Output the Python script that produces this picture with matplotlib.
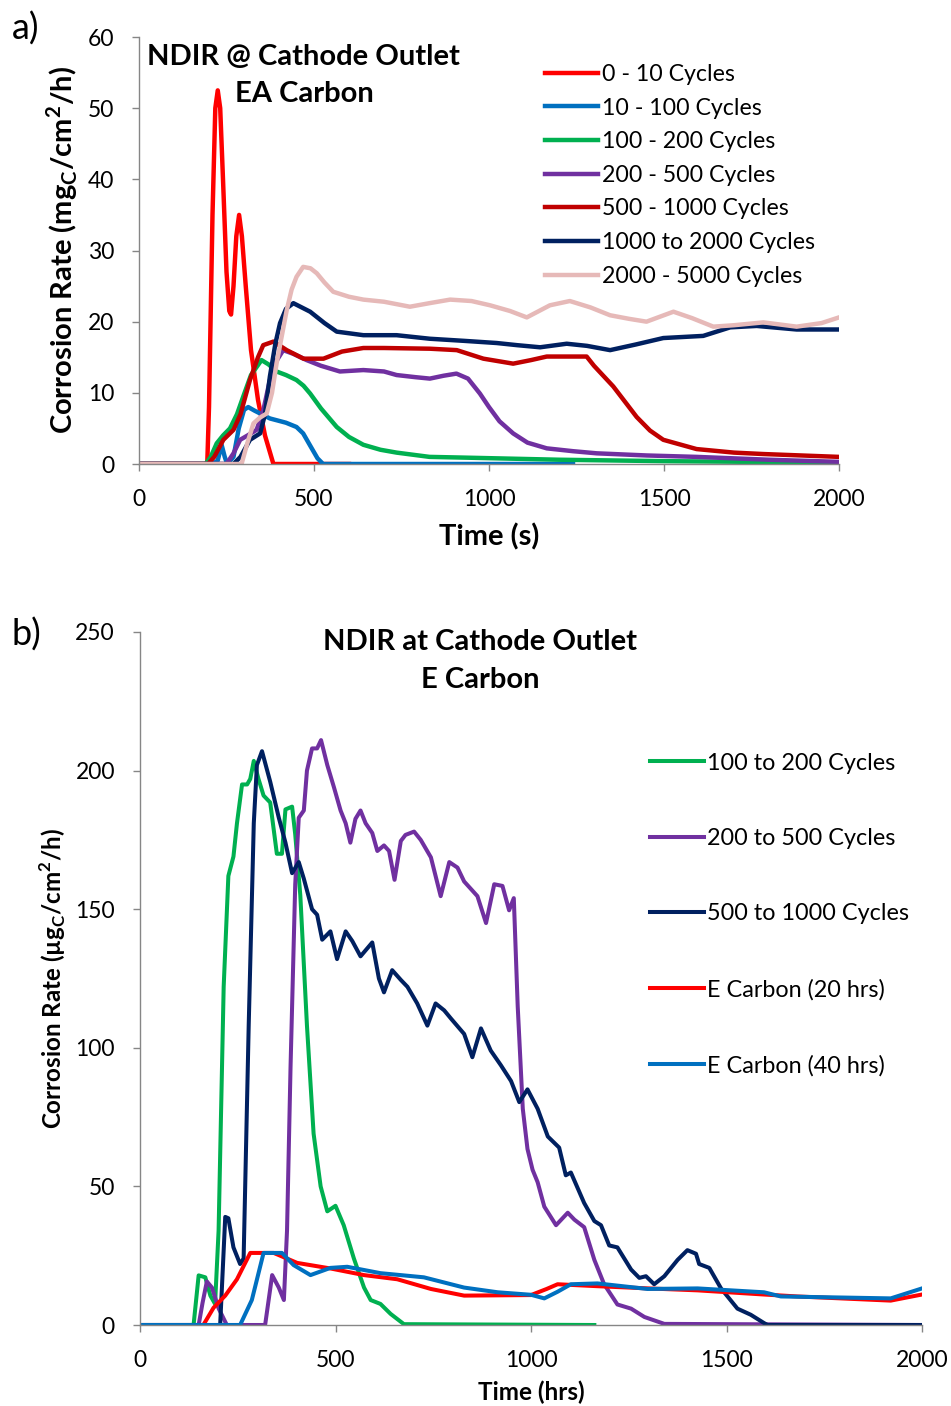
import numpy as np
import matplotlib
matplotlib.use('Agg')
import matplotlib.pyplot as plt

plt.rcParams['font.family'] = ['Lato', 'DejaVu Sans']
plt.rcParams['mathtext.fontset'] = 'custom'
plt.rcParams['mathtext.rm'] = 'Lato'
plt.rcParams['mathtext.bf'] = 'Lato:bold'

# ---------------- panel a data (time in s, rate in mgC/cm2/h)
a_labels = ['0 - 10 Cycles', '10 - 100 Cycles', '100 - 200 Cycles', '200 - 500 Cycles',
            '500 - 1000 Cycles', '1000 to 2000 Cycles', '2000 - 5000 Cycles']
a_colors = ['#FF0000', '#0070C0', '#00B050', '#7030A0', '#C00000', '#002060', '#E6B9B8']

t_a0 = [0, 195, 200, 210, 218, 225, 232, 240, 250, 258, 263, 270, 278, 286, 294, 305, 320, 340, 360, 384, 600]
v_a0 = [0, 0, 8, 35, 50, 52.5, 50, 40, 27, 21.5, 21, 25, 32, 35, 32, 25, 16, 9, 4, 0, 0]

t_a1 = [0, 210, 225, 236, 245, 252, 270, 285, 300, 312, 330, 374, 420, 450, 469, 490, 510, 526, 1240]
v_a1 = [0, 0, 0.5, 2.7, 1, 0, 1, 5, 7.6, 8, 7.5, 6.4, 5.8, 5.2, 4.3, 2.5, 0.8, 0, 0]

t_a2 = [0, 190, 205, 222, 240, 260, 280, 298, 320, 350, 370, 393, 420, 450, 470, 489, 520, 565, 600,
        641, 690, 736, 830, 927, 1200, 1500, 2000]
v_a2 = [0, 0, 1, 2.9, 4, 5, 7, 9.5, 12.5, 14.6, 14, 13, 12.5, 11.8, 11, 9.9, 7.8, 5.2, 3.8,
        2.7, 2, 1.6, 1.0, 0.9, 0.6, 0.4, 0.2]

t_a3 = [0, 250, 270, 289, 310, 336, 355, 374, 393, 412, 440, 479, 520, 574, 641, 700, 736, 790, 831,
        870, 907, 940, 974, 1000, 1030, 1069, 1110, 1165, 1240, 1308, 1450, 1593, 1800, 2000]
v_a3 = [0, 0, 1.5, 3.4, 4, 4.8, 7.5, 11.8, 14.5, 16, 15.5, 14.6, 13.8, 13.0, 13.2, 13.0, 12.5, 12.2, 12.0,
        12.4, 12.7, 12.0, 9.9, 8.0, 6.0, 4.3, 3.0, 2.2, 1.8, 1.5, 1.2, 1.0, 0.6, 0.3]

t_a4 = [0, 197, 215, 241, 270, 290, 317, 340, 355, 384, 422, 470, 527, 580, 641, 700, 831, 908, 984,
        1069, 1120, 1165, 1279, 1300, 1355, 1422, 1460, 1498, 1593, 1700, 1784, 2000]
v_a4 = [0, 0, 1, 3.4, 4.8, 7, 11.8, 15, 16.7, 17.2, 16.0, 14.8, 14.8, 15.8, 16.3, 16.3, 16.2, 16.0, 14.8,
        14.1, 14.6, 15.1, 15.1, 13.8, 10.9, 6.6, 4.7, 3.4, 2.1, 1.6, 1.4, 1.0]

t_a5 = [0, 270, 290, 317, 346, 360, 374, 390, 403, 420, 441, 489, 530, 565, 641, 736, 831, 930, 1022,
        1080, 1146, 1222, 1280, 1346, 1420, 1498, 1612, 1689, 1765, 1879, 2000]
v_a5 = [0, 0, 1, 3.4, 4.3, 7, 12.3, 17, 19.8, 21.8, 22.6, 21.4, 19.8, 18.6, 18.1, 18.1, 17.6, 17.3, 17.0,
        16.7, 16.4, 16.9, 16.6, 16.0, 16.8, 17.7, 18.0, 19.2, 19.4, 18.9, 18.9]

t_a6 = [0, 293, 310, 327, 345, 365, 380, 393, 408, 422, 436, 450, 469, 490, 508, 530, 555, 600, 641,
        700, 774, 830, 889, 950, 1003, 1060, 1108, 1174, 1231, 1290, 1346, 1400, 1450, 1527, 1580,
        1641, 1700, 1784, 1879, 1950, 2000]
v_a6 = [0, 0, 3, 5.7, 6.5, 7.1, 10, 14.1, 18, 21.6, 24.5, 26.3, 27.7, 27.5, 26.8, 25.5, 24.2, 23.5, 23.1,
        22.8, 22.1, 22.6, 23.1, 22.9, 22.3, 21.5, 20.6, 22.3, 22.9, 22.0, 20.9, 20.4, 20.0, 21.4, 20.5,
        19.3, 19.5, 19.9, 19.3, 19.8, 20.6]

# ---------------- panel b data (time in hrs, rate in ugC/cm2/h)
b_labels = ['100 to 200 Cycles', '200 to 500 Cycles', '500 to 1000 Cycles',
            'E Carbon (20 hrs)', 'E Carbon (40 hrs)']
b_colors = ['#00B050', '#7030A0', '#002060', '#FF0000', '#0070C0']

t_b0 = [0, 137, 150, 167, 180, 192, 201, 214, 226, 239, 248, 261, 274, 282, 291, 303, 316, 333, 350,
        363, 372, 389, 397, 410, 427, 444, 462, 479, 500, 521, 547, 573, 590, 615, 641, 675, 1162]
v_b0 = [0, 0, 17.9, 17.2, 10.6, 7.6, 34, 122, 162, 169, 181, 195, 195, 197, 203.5, 197, 191, 188.5, 170,
        170, 186, 187, 177, 155, 108, 69, 50, 41, 43, 36, 24, 13.5, 9, 7.6, 4, 0.3, 0]

t_b1 = [0, 150, 160, 171, 184, 201, 222, 320, 338, 355, 368, 376, 385, 397, 406, 419, 427, 440, 453,
        463, 479, 496, 513, 526, 538, 551, 564, 577, 594, 607, 624, 637, 651, 667, 679, 701, 718, 744,
        769, 791, 812, 829, 863, 885, 906, 927, 944, 956, 966, 979, 991, 1004, 1017, 1034, 1064, 1094,
        1111, 1136, 1162, 1187, 1221, 1256, 1290, 1341, 2000]
v_b1 = [0, 0, 8, 15.7, 13.5, 6, 0, 0, 18, 13.5, 9, 34, 93, 159, 183, 185.6, 200, 208, 208,
        211, 202, 194, 185.6, 181, 174, 182.6, 185.6, 181, 177.5, 171, 173, 171, 160.6, 174.6, 176.8, 178, 175, 168.7,
        154.7, 167, 165, 160, 154.7, 145, 159, 158.4, 149.6, 154, 115, 78, 63.5, 56, 51.5, 42.7, 36, 40.5,
        38, 35.3, 23.5, 14.7, 7.4, 5.9, 2.9, 0.4, 0]

t_b2 = [0, 205, 218, 226, 239, 256, 265, 278, 291, 299, 312, 333, 355, 372, 389, 406, 419, 440, 453,
        466, 487, 504, 526, 543, 564, 594, 611, 624, 645, 667, 684, 709, 735, 756, 778, 795, 829, 850,
        872, 897, 923, 949, 970, 991, 1017, 1043, 1072, 1089, 1102, 1136, 1162, 1179, 1200, 1221, 1256,
        1277, 1294, 1315, 1341, 1375, 1400, 1422, 1430, 1456, 1486, 1528, 1562, 1596, 1605, 2000]
v_b2 = [0, 0, 39, 38.5, 28, 22, 24, 108, 181, 202, 207, 196, 183, 174, 163, 167, 161, 150, 148,
        139, 142, 132, 142, 138.5, 133, 138, 125, 120, 128, 124.5, 122, 116, 108, 116, 113.5, 110.6, 105, 96.6,
        107, 99, 93.7, 88, 80.4, 85, 78, 68, 64, 54, 55, 44, 37.5, 36, 28.7, 28, 20,
        17, 17.6, 14.7, 17.6, 23.5, 27, 25.7, 22, 20.6, 13.2, 5.9, 3.7, 0.7, 0, 0]

t_b3 = [0, 162, 188, 218, 248, 282, 342, 402, 487, 573, 658, 744, 829, 1000, 1040, 1068, 1170, 1300,
        1426, 1596, 1681, 1920, 2000]
v_b3 = [0, 0, 6.2, 10.6, 16.5, 26, 26, 22.4, 20.4, 18, 16.5, 13, 10.6, 10.8, 13, 14.7, 14, 13.2,
        12.5, 11, 10.3, 8.8, 11]

t_b4 = [0, 256, 286, 316, 363, 393, 436, 487, 530, 615, 726, 829, 915, 1000, 1034, 1068, 1102, 1170,
        1298, 1426, 1596, 1639, 1920, 2000]
v_b4 = [0, 0, 9, 26, 26, 21.6, 18, 20.6, 21, 18.7, 17.2, 13.5, 11.8, 10.9, 9.6, 12, 14.7, 15,
        13, 13.2, 11.8, 10.3, 9.6, 13.2]

a_series = [(t_a0, v_a0), (t_a1, v_a1), (t_a2, v_a2), (t_a3, v_a3), (t_a4, v_a4), (t_a5, v_a5), (t_a6, v_a6)]
b_series = [(t_b0, v_b0), (t_b1, v_b1), (t_b2, v_b2), (t_b3, v_b3), (t_b4, v_b4)]

W, H = 951, 1406
fig = plt.figure(figsize=(W / 100, H / 100), dpi=100)


def excel_axes(ax):
    for s in ['top', 'right']:
        ax.spines[s].set_visible(False)
    for s in ['left', 'bottom']:
        ax.spines[s].set_color('#868686')
        ax.spines[s].set_linewidth(1.0)
    ax.tick_params(direction='out', length=5, color='#868686', labelsize=16.5, width=1.0)
    ax.tick_params(axis='x', pad=13)
    ax.tick_params(axis='y', pad=13)


# %% panel a
ax1 = fig.add_axes([139 / W, 1 - 464 / H, 700 / W, 427 / H])
for (t, v), c, lab in zip(a_series, a_colors, a_labels):
    ax1.plot(t, v, color=c, lw=3.2, label=lab, solid_joinstyle='round')
ax1.set_xlim(0, 2000)
ax1.set_ylim(0, 60)
ax1.set_xticks(np.arange(0, 2001, 500))
ax1.set_yticks(np.arange(0, 61, 10))
excel_axes(ax1)
ax1.set_xlabel('Time (s)', fontsize=21, fontweight='bold')
ax1.xaxis.set_label_coords(0.5, (464 - 537) / 427)
ax1.xaxis.label.set_va('center')
ax1.set_ylabel(r'Corrosion Rate (mg$_\mathbf{C}$/cm$^\mathbf{2}$/h)', fontsize=21, fontweight='bold')
ax1.yaxis.set_label_coords((62 - 139) / 700, 0.5)
ax1.yaxis.label.set_va('center')
ax1.text((147 - 139) / 700, (464 - 57) / 427, 'NDIR @ Cathode Outlet', transform=ax1.transAxes,
         fontsize=21, fontweight='bold', va='center', ha='left')
ax1.text((235 - 139) / 700, (464 - 94) / 427, 'EA Carbon', transform=ax1.transAxes, fontsize=21,
         fontweight='bold', va='center', ha='left')
ax1.legend(loc='upper left', bbox_to_anchor=(0.58, 0.937), frameon=False, fontsize=16.7,
           handlelength=2.3, handletextpad=0.17, labelspacing=0.545, borderpad=0, borderaxespad=0)
fig.text(12 / W, 1 - 29 / H, 'a)', fontsize=26, va='center', ha='left')

# %% panel b
ax2 = fig.add_axes([140 / W, 1 - 1325 / H, 782 / W, 693 / H])
for (t, v), c, lab in zip(b_series, b_colors, b_labels):
    ax2.plot(t, v, color=c, lw=2.9, label=lab, solid_joinstyle='round')
ax2.set_xlim(0, 2000)
ax2.set_ylim(0, 250)
ax2.set_xticks(np.arange(0, 2001, 500))
ax2.set_yticks(np.arange(0, 251, 50))
excel_axes(ax2)
ax2.set_xlabel('Time (hrs)', fontsize=17.5, fontweight='bold')
ax2.xaxis.set_label_coords(0.5, (1325 - 1392) / 693)
ax2.xaxis.label.set_va('center')
ax2.set_ylabel('Corrosion Rate (µg$_\\mathbf{C}$/cm$^\\mathbf{2}$/h)', fontsize=17.4, fontweight='bold')
ax2.yaxis.set_label_coords((53 - 140) / 782, 0.5)
ax2.yaxis.label.set_va('center')
ax2.text((480 - 140) / 782, (1325 - 642) / 693, 'NDIR at Cathode Outlet', transform=ax2.transAxes,
         fontsize=21, fontweight='bold', va='center', ha='center')
ax2.text((480 - 140) / 782, (1325 - 680) / 693, 'E Carbon', transform=ax2.transAxes,
         fontsize=21, fontweight='bold', va='center', ha='center')
ax2.legend(loc='upper left', bbox_to_anchor=(0.652, 0.826), frameon=False, fontsize=16.8,
           handlelength=2.3, handletextpad=0.17, labelspacing=2.33, borderpad=0, borderaxespad=0)
fig.text(12 / W, 1 - 635 / H, 'b)', fontsize=26, va='center', ha='left')

fig.savefig('out.png', dpi=100)
